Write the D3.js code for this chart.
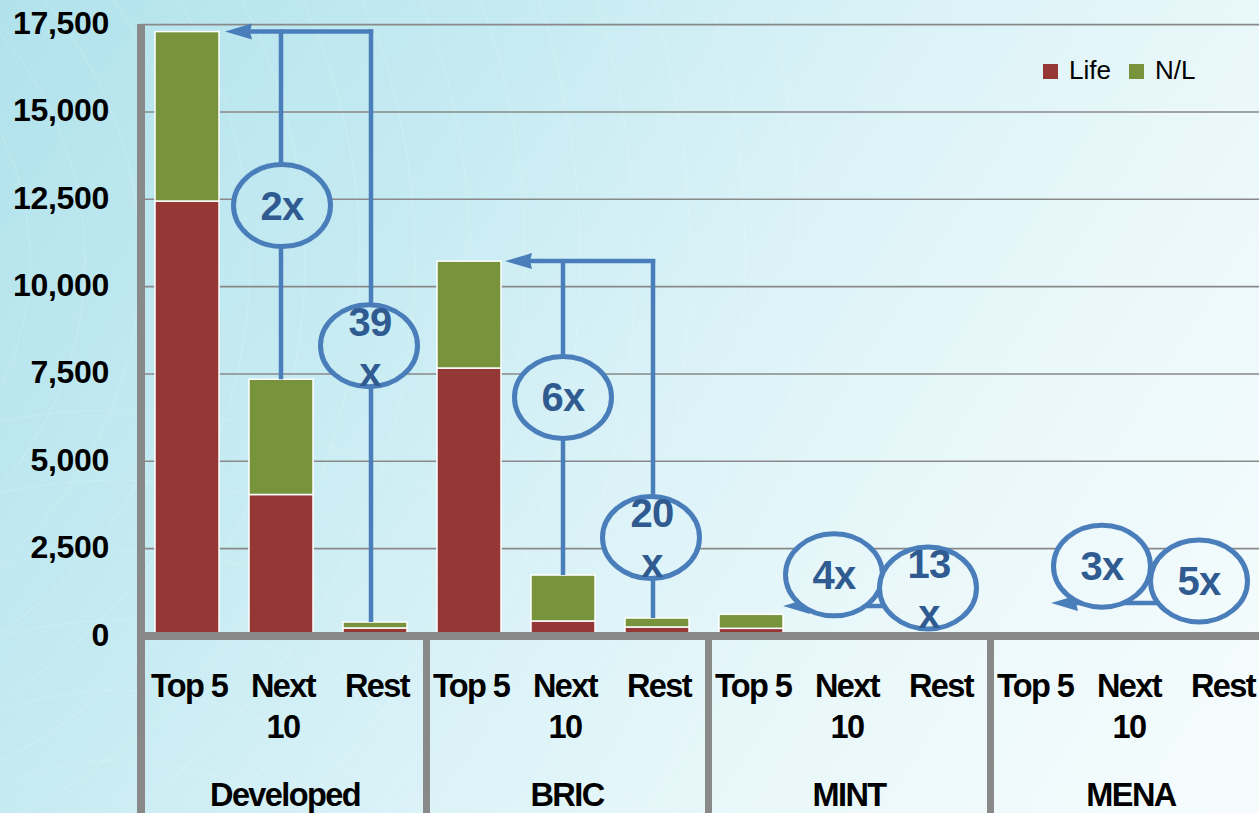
<!DOCTYPE html>
<html>
<head>
<meta charset="utf-8">
<script src="https://cdn.jsdelivr.net/npm/d3@7"></script>
<style>
  html, body { margin: 0; padding: 0; overflow: hidden; background: #d6f0f5; }
  svg { display: block; }
  text { font-family: "Liberation Sans", Arial, sans-serif; }
</style>
</head>
<body>
<svg id="chart" width="1259" height="813"></svg>
<script>
// ---- data ----
const groups = ["Developed", "BRIC", "MINT", "MENA"];
const tiers = ["Top 5", "Next 10", "Rest"];
const tierLines = [["Top 5"], ["Next", "10"], ["Rest"]];
// premiums by group (outer) and tier (inner), in group order
const lifeValues    = [12450, 4050, 230,   7670, 430, 258,   220, 0, 0,   0, 0, 0];
const nonLifeValues = [ 4850, 3300, 170,   3060, 1315, 257,  400, 0, 0,   0, 0, 0];
const seriesNames = ["Life", "N/L"];
const yTicks = [0, 2500, 5000, 7500, 10000, 12500, 15000, 17500];
// concentration ratios: Top 5 vs Next 10, Top 5 vs Rest
const ratioGroups = ["Developed", "Developed", "BRIC", "BRIC", "MINT", "MINT", "MENA", "MENA"];
const ratioTiers  = ["Next 10", "Rest", "Next 10", "Rest", "Next 10", "Rest", "Next 10", "Rest"];
const ratioLabels = ["2x", "39 x", "6x", "20 x", "4x", "13 x", "3x", "5x"];

// ---- layout ----
const W = 1259, H = 813;
const colors = { "Life": "#953735", "N/L": "#77933c" };
const gray = "#898989";
const blue = "#4a7ebb";
const ratioText = "#2f5b91";

const rows = [];
groups.forEach((g, gi) => tiers.forEach((t, ti) => {
  const k = gi * 3 + ti;
  rows.push({ group: g, tier: t, life: lifeValues[k], nl: nonLifeValues[k] });
}));
const stack = d3.stack().keys(["life", "nl"])(rows);

const svg = d3.select("#chart");
const defs = svg.append("defs");
const bg = defs.append("linearGradient").attr("id", "bg")
  .attr("gradientUnits", "userSpaceOnUse")
  .attr("x1", 0).attr("y1", 0).attr("x2", W).attr("y2", H);
[["0", "#b1e2ec"], ["0.3", "#c6ebf2"], ["0.5", "#d9f2f7"], ["0.72", "#eaf8fa"], ["1", "#f6fcfd"]]
  .forEach(([o, c]) => bg.append("stop").attr("offset", o).attr("stop-color", c));

svg.append("rect").attr("width", W).attr("height", H).attr("fill", "url(#bg)");

// faint swirl lines in the backdrop
const swirl = svg.append("g").attr("fill", "none").attr("stroke", "#ffffff").attr("stroke-opacity", 0.16);
d3.range(180, 1100, 55).forEach(r => {
  swirl.append("circle").attr("cx", -260).attr("cy", 260).attr("r", r).attr("stroke-width", 1.2);
});
d3.range(150, 700, 70).forEach(r => {
  swirl.append("circle").attr("cx", 120).attr("cy", 1050).attr("r", r).attr("stroke-width", 1);
});

const y = d3.scaleLinear().domain([0, 17500]).range([636, 24.6]);
const gx = d3.scaleBand().domain(groups).range([140, 1268]).padding(0);
const tx = d3.scaleBand().domain(tiers).range([0, gx.bandwidth()])
  .paddingInner(0.319).paddingOuter(0.1595);
const cx = (g, t) => gx(g) + tx(t) + tx.bandwidth() / 2;

// gridlines
svg.append("g").selectAll("line").data(yTicks.slice(1)).join("line")
  .attr("x1", 141).attr("x2", W)
  .attr("y1", d => y(d)).attr("y2", d => y(d))
  .attr("stroke", gray).attr("stroke-width", 1.6);

// y tick labels
svg.append("g").selectAll("text").data(yTicks).join("text")
  .attr("x", 109).attr("y", d => y(d) + 9.5)
  .attr("text-anchor", "end")
  .attr("font-size", 32).attr("font-weight", "bold").attr("fill", "#000")
  .attr("letter-spacing", -0.3)
  .text(d => d3.format(",")(d));

// stacked bars
svg.append("g").selectAll("g").data(stack).join("g")
  .attr("fill", (d, i) => colors[seriesNames[i]])
  .selectAll("rect").data(d => d).join("rect")
  .attr("x", d => gx(d.data.group) + tx(d.data.tier))
  .attr("width", tx.bandwidth())
  .attr("y", d => y(d[1]))
  .attr("height", d => Math.max(0, y(d[0]) - y(d[1])))
  .attr("stroke", "#ffffff").attr("stroke-width", 1.5);

// axis frame: left bar, baseline band, group separators
svg.append("rect").attr("x", 137).attr("y", 24).attr("width", 8).attr("height", H - 24).attr("fill", gray);
svg.append("rect").attr("x", 137).attr("y", 632).attr("width", W - 137).attr("height", 8).attr("fill", gray);
svg.append("g").selectAll("rect").data(groups.slice(1)).join("rect")
  .attr("x", d => gx(d) + 1).attr("y", 636).attr("width", 7).attr("height", H - 636)
  .attr("fill", gray);

// category labels
const lab = svg.append("g").attr("font-size", 32.5).attr("font-weight", "bold")
  .attr("fill", "#000").attr("text-anchor", "middle").attr("letter-spacing", -1.6);
groups.forEach(g => {
  tiers.forEach((t, ti) => {
    tierLines[ti].forEach((line, li) => {
      lab.append("text").attr("x", cx(g, t) + 2).attr("y", 697 + li * 41).text(line);
    });
  });
  lab.append("text").attr("x", gx(g) + gx.bandwidth() / 2 + 4).attr("y", 806).text(g);
});

// legend
const leg = svg.append("g");
seriesNames.forEach((s, i) => {
  const lx = [1043, 1129][i];
  leg.append("rect").attr("x", lx).attr("y", 64).attr("width", 15).attr("height", 15).attr("fill", colors[s]);
  leg.append("text").attr("x", lx + 26).attr("y", 79).attr("font-size", 26).attr("fill", "#000").text(s);
});

// ---- ratio callouts ----
const total = (g, t) => { const r = rows.find(d => d.group === g && d.tier === t); return r.life + r.nl; };
const barRight = g => gx(g) + tx("Top 5") + tx.bandwidth();
// where each callout's arrow runs (value units) and how the tip sits against the Top 5 bar
const arrowLevel = { Developed: total("Developed", "Top 5"), BRIC: total("BRIC", "Top 5"), MINT: 860, MENA: 945 };
const tipOffset = { Developed: 6, BRIC: 4, MINT: 0, MENA: -14 };
// bubble centres (value units) and horizontal nudges from the tier centre
const bubbleAt = [12320, 8310, 6830, 2820, 1750, 1375, 2000, 1575];
const bubbleDx = [1, -6, 0, -6, -11, -11, -25, -22];
const connectorDx = { "Next 10": 0, "Rest": -4 };

const ann = svg.append("g");
const arrowG = ann.append("g").attr("stroke", blue).attr("stroke-width", 4.5).attr("fill", "none");
const heads = ann.append("g").attr("fill", blue);

groups.forEach(g => {
  const ay = y(arrowLevel[g]);
  const tip = barRight(g) + tipOffset[g];
  const idx = ratioGroups.map((d, i) => d === g ? i : -1).filter(i => i >= 0);
  const restI = idx.find(i => ratioTiers[i] === "Rest");
  const tall = total(g, "Top 5") > 2000;
  const farX = tall ? cx(g, "Rest") + connectorDx["Rest"] : cx(g, "Rest") + bubbleDx[restI];
  // horizontal run toward the Top 5 bar
  arrowG.append("path").attr("d", `M${farX + (tall ? 2.2 : 0)},${ay} H${tip + 22}`);
  if (tall) {
    idx.forEach(i => {
      const t = ratioTiers[i];
      const x = cx(g, t) + connectorDx[t];
      arrowG.append("path").attr("d", `M${x},${y(total(g, t))} V${ay - 2.2}`);
    });
  }
  heads.append("path").attr("d", `M${tip},${ay} L${tip + 27},${ay - 8} L${tip + 25},${ay} L${tip + 27},${ay + 8} Z`);
});

// bubbles
ratioLabels.forEach((label, i) => {
  const g = ratioGroups[i], t = ratioTiers[i];
  const bx = cx(g, t) + bubbleDx[i];
  const by = y(bubbleAt[i]);
  ann.append("ellipse").attr("cx", bx).attr("cy", by).attr("rx", 48.5).attr("ry", 41)
    .attr("fill", "url(#bg)").attr("stroke", blue).attr("stroke-width", 5);
  const parts = label.split(" ");
  const tg = ann.append("g").attr("font-size", 40).attr("font-weight", "bold")
    .attr("fill", ratioText).attr("text-anchor", "middle").attr("letter-spacing", -0.8);
  if (parts.length === 1) {
    tg.append("text").attr("x", bx).attr("y", by + 14).text(parts[0]);
  } else {
    tg.append("text").attr("x", bx + 1).attr("y", by - 10).text(parts[0]);
    tg.append("text").attr("x", bx + 1).attr("y", by + 40).text(parts[1]);
  }
});
</script>
</body>
</html>
